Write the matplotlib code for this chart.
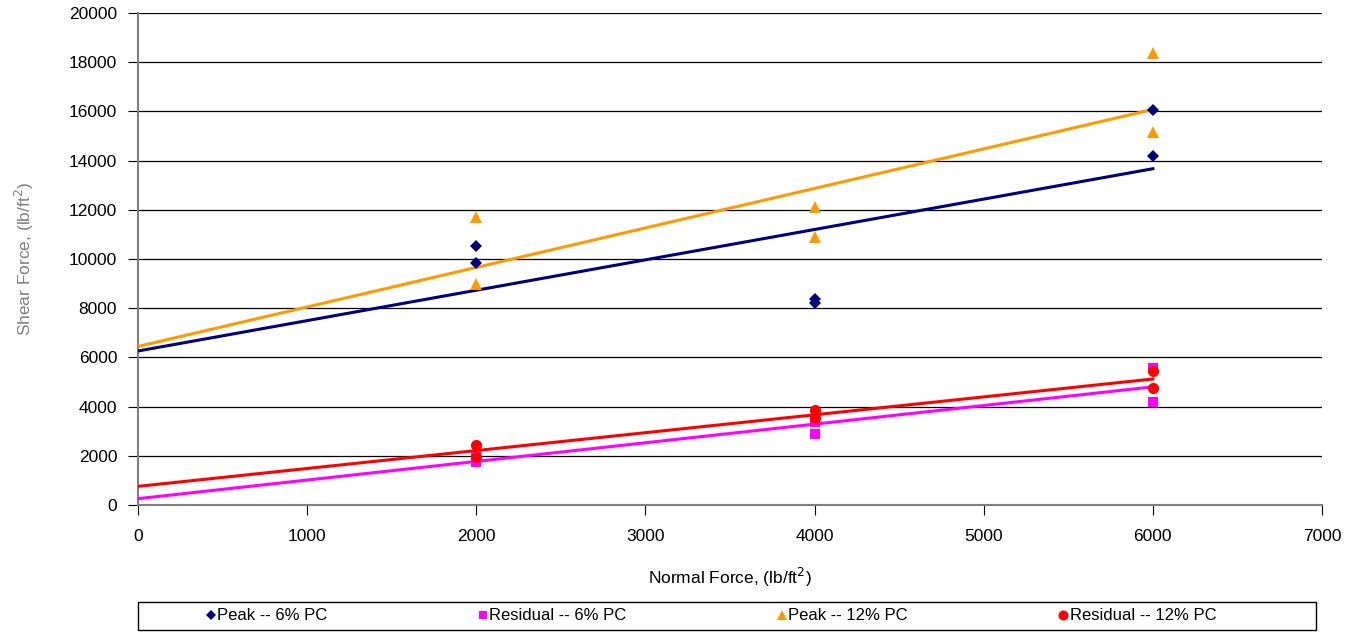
import matplotlib
matplotlib.use("Agg")
import matplotlib.pyplot as plt
from matplotlib.patches import Rectangle
import numpy as np

plt.rcParams['font.family'] = ['Liberation Sans', 'DejaVu Sans']

# Data
normal_peak6 = [2000, 2000, 4000, 4000, 6000, 6000]
shear_peak6 = [10530, 9840, 8370, 8210, 16060, 14190]

normal_res6 = [2000, 2000, 4000, 4000, 6000, 6000]
shear_res6 = [1750, 1950, 2890, 3370, 5570, 4190]

normal_peak12 = [2000, 2000, 4000, 4000, 6000, 6000]
shear_peak12 = [11700, 8980, 12110, 10890, 18370, 15160]

normal_res12 = [2000, 2000, 4000, 4000, 6000, 6000]
shear_res12 = [2440, 1950, 3860, 3540, 5450, 4760]

series = [
    ("Peak -- 6% PC", normal_peak6, shear_peak6, "#000080", "D", 6),
    ("Residual -- 6% PC", normal_res6, shear_res6, "#FF00FF", "s", 7),
    ("Peak -- 12% PC", normal_peak12, shear_peak12, "#FF9900", "^", 8),
    ("Residual -- 12% PC", normal_res12, shear_res12, "#FF0000", "o", 8),
]

W, H = 1364, 632
fig = plt.figure(figsize=(W/100, H/100), dpi=100)
ax = fig.add_axes([138/W, 1-505/H, (1322-138)/W, (505-13)/H])

handles = []
for label, xs, ys, col, mk, ms in series:
    h, = ax.plot(xs, ys, linestyle='none', marker=mk, color=col, markersize=ms,
                 markeredgewidth=0, label=label, zorder=4)
    handles.append(h)
# trend lines (linear fits)
for label, xs, ys, col, mk, ms in series:
    k, b = np.polyfit(xs, ys, 1)
    xx = np.array([0, 6000])
    ax.plot(xx, k*xx + b, color=col, linewidth=2.2, zorder=3)

ax.set_xlim(0, 7000)
ax.set_ylim(0, 20000)
ax.set_xticks(np.arange(0, 7001, 1000))
ax.set_yticks(np.arange(0, 20001, 2000))
ax.yaxis.grid(True, color='black', linewidth=0.9)
ax.set_axisbelow(True)
for s in ['top', 'right']:
    ax.spines[s].set_visible(False)
for s in ['left', 'bottom']:
    ax.spines[s].set_color('#808080')
    ax.spines[s].set_linewidth(1.5)
ax.tick_params(axis='both', labelsize=12.5, length=7, color='black', direction='out', pad=10)
ax.tick_params(axis='y', pad=8)

ax.set_xlabel("Normal Force, (lb/ft$^2$)", fontsize=12.5, labelpad=16)
ax.set_ylabel("Shear Force, (lb/ft$^2$)", fontsize=12.5, color='#808080', labelpad=24)

# legend frame
fig.patches.append(Rectangle((138/W, 2/H), (1316-138)/W, 28/H, transform=fig.transFigure,
                             fill=False, edgecolor='black', linewidth=1.0))
leg = fig.legend(handles=handles, loc='center', ncol=4,
                 bbox_to_anchor=(711/W, 1-616/H),
                 frameon=False, fontsize=12, handlelength=0.6, handletextpad=0.1,
                 columnspacing=9.0, markerscale=0.9)

fig.savefig("out.png", dpi=100)
